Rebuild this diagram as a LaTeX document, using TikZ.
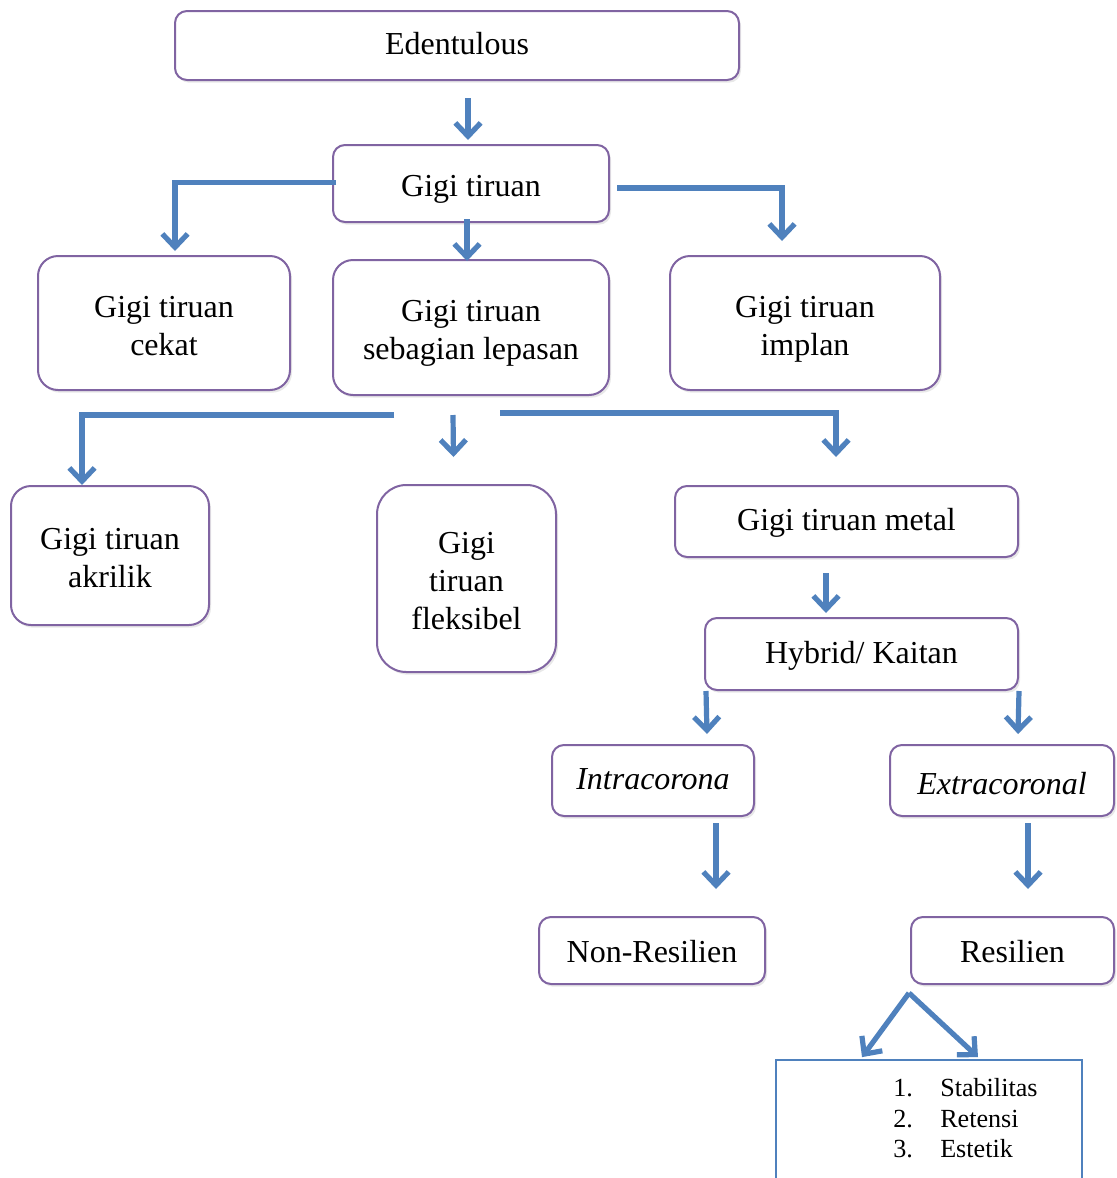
\documentclass[tikz,border=0pt]{standalone}
\usepackage{fontspec}
\setmainfont{Liberation Serif}
\usetikzlibrary{arrows.meta,fit,shadows,calc}
\definecolor{boxpurple}{HTML}{8064A2}
\definecolor{arrblue}{HTML}{4F81BD}
\tikzset{
  box/.style={draw=boxpurple, line width=1.5pt, rounded corners=9pt, fill=white,
    inner sep=0pt, align=center,
    drop shadow={opacity=0.18, shadow xshift=1.5pt, shadow yshift=-2pt}},
  bigbox/.style={box, rounded corners=15pt},
  lbl/.style={font=\fontsize{24}{28.5}\selectfont, align=center, inner sep=0pt},
  arr/.style={draw=arrblue, line width=3.9pt, -{Straight Barb[length=10pt,width=19pt]}},
  listbox/.style={draw=arrblue, line width=1.3pt, fill=white, inner sep=0pt},
  listtext/.style={inner sep=0pt, align=left, font=\fontsize{19.6}{23}\selectfont}
}
\begin{document}
\begin{tikzpicture}[x=0.75pt,y=-0.75pt]
\useasboundingbox (0,0) rectangle (1117,1178);
\clip (0,0) rectangle (1117,1178);
% nodes
\node[box, fit={(175,11) (739,80)}] (eden) {};
\node[lbl] at ([shift={(0,-2)}]eden.center) (edent) {Edentulous};
\node[box, fit={(333,145) (609,222)}] (gt) {};
\node[lbl] at ([shift={(0,6)}]gt.center) (gtt) {Gigi tiruan};
\node[bigbox, fit={(38,256) (290,390)}] (cekat) {};
\node[lbl] at ([shift={(0,3)}]cekat.center) (cekatt) {Gigi tiruan\\cekat};
\node[bigbox, fit={(333,260) (609,395)}] (lep) {};
\node[lbl] at ([shift={(0,6)}]lep.center) (lept) {Gigi tiruan\\sebagian lepasan};
\node[bigbox, fit={(670,256) (940,390)}] (implan) {};
\node[lbl] at ([shift={(0,6)}]implan.center) (implant) {Gigi tiruan\\implan};
\node[bigbox, fit={(11,486) (209,625)}] (akr) {};
\node[lbl] at ([shift={(0,3)}]akr.center) (akrt) {Gigi tiruan\\akrilik};
\node[bigbox, rounded corners=22pt, fit={(377,485) (556,672)}] (flek) {};
\node[lbl] at ([shift={(0,3)}]flek.center) (flekt) {Gigi\\tiruan\\fleksibel};
\node[box, fit={(675,486) (1018,557)}] (metal) {};
\node[lbl] at ([shift={(0,1.3)}]metal.center) (metalt) {Gigi tiruan metal};
\node[box, fit={(705,618) (1018,690)}] (hyb) {};
\node[lbl] at ([shift={(0,1.7)}]hyb.center) (hybt) {Hybrid/ Kaitan};
\node[box, fit={(552,745) (754,816)}] (intra) {};
\node[lbl, font=\fontsize{24}{28.5}\selectfont\itshape] at ([shift={(0,-1.3)}]intra.center) (intrat) {Intracorona};
\node[box, fit={(890,745) (1114,816)}] (extra) {};
\node[lbl, font=\fontsize{24}{28.5}\selectfont\itshape] at ([shift={(0,3.3)}]extra.center) (extrat) {Extracoronal};
\node[box, fit={(539,917) (765,984)}] (nonres) {};
\node[lbl] at ([shift={(0,1)}]nonres.center) (nonrest) {Non-Resilien};
\node[box, fit={(911,917) (1114,984)}] (res) {};
\node[lbl] at ([shift={(0,1)}]res.center) (rest) {Resilien};
\node[listbox, fit={(776,1060) (1082,1200)}] (list) {};
\node[listtext, anchor=north west] (items) at (893,1078)
  {\makebox[35.25pt][l]{1.}Stabilitas\\\makebox[35.25pt][l]{2.}Retensi\\\makebox[35.25pt][l]{3.}Estetik};
% connectors
\draw[arr] ([shift={(11,17)}]eden.south) -- ([shift={(-3,-4)}]gt.north);
\draw[arr] ([shift={(4,-1)}]gt.west) -| ([shift={(11,-4)}]cekat.north);
\draw[arr] ([shift={(-4,-4)}]gt.south) -- ([shift={(-4,2)}]lep.north);
\draw[arr] ([shift={(7,4.5)}]gt.east) -| ([shift={(-23,-14)}]implan.north);
\draw[arr] ([shift={(-77,19)}]lep.south) -| ([shift={(-28,0)}]akr.north);
\draw[arr] ([shift={(-18,19)}]lep.south) -- ([shift={(-13,-27)}]flek.north);
\draw[arr] ([shift={(29,17)}]lep.south) -| ([shift={(-10.5,-28)}]metal.north);
\draw[arr] ([shift={(-20.5,15)}]metal.south) -- ([shift={(-35.5,-4)}]hyb.north);
\draw[arr] ([shift={(2,0)}]hyb.south west) -- ([shift={(54,-10)}]intra.north);
\draw[arr] ([shift={(0,0)}]hyb.south east) -- ([shift={(16,-10)}]extra.north);
\draw[arr] ([shift={(63,6)}]intra.south) -- ([shift={(64,-27)}]nonres.north);
\draw[arr] ([shift={(26,6)}]extra.south) -- ([shift={(15.5,-27)}]res.north);
\coordinate (split) at ([shift={(-103.5,8)}]res.south);
\draw[arr] (split) -- ([shift={(-67,-2)}]list.north);
\draw[arr] (split) -- ([shift={(49,-2)}]list.north);
\end{tikzpicture}
\end{document}
